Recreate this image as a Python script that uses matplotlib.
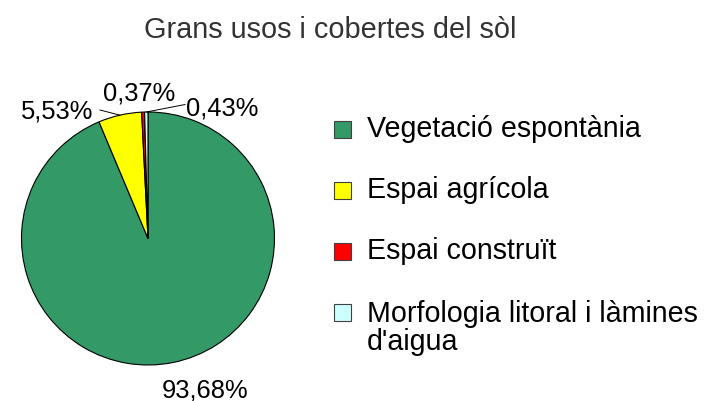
import numpy as np
import matplotlib
matplotlib.use("Agg")
from matplotlib import pyplot as plt
from matplotlib.patches import Rectangle

plt.rcParams['font.family'] = ['Liberation Sans', 'DejaVu Sans']

title = "Grans usos i cobertes del sòl"
categories = ["Vegetació espontània", "Espai agrícola", "Espai construït",
              "Morfologia litoral i làmines\nd'aigua"]
values = [93.68, 5.53, 0.37, 0.43]
colors = ["#339966", "#FFFF00", "#FF0000", "#CCFFFF"]

W, H = 707, 401
fig = plt.figure(figsize=(W / 100, H / 100), dpi=100)


def fx(px):
    return px / W


def fy(py):
    # pixel from top -> figure fraction
    return 1 - py / H


# pie axes: center (148, 238.5), radius 126.5 px
cx, cy, r = 148, 238.5, 126.5
ax = fig.add_axes([fx(cx - r), fy(cy + r), 2 * r / W, 2 * r / H])
wedges, _ = ax.pie(values, colors=colors, startangle=90, counterclock=False,
                   wedgeprops=dict(edgecolor="black", linewidth=0.8))
ax.set_xlim(-1, 1)
ax.set_ylim(-1, 1)
ax.axis("off")

# percentage labels (text anchor positions in pie data units, baseline)
label_pos = [(0.455, -1.253), (-0.715, 0.949), (-0.067, 1.089), (0.589, 0.976)]
leader_from = [None, (-0.38, 1.016), None, (0.292, 1.059)]
for w, v, pos, lf in zip(wedges, values, label_pos, leader_from):
    txt = f"{v:.2f}%".replace(".", ",")
    ax.text(pos[0], pos[1], txt, ha="center", va="baseline",
            fontsize=18.4, clip_on=False)
    if lf is not None:
        ang = np.deg2rad((w.theta1 + w.theta2) / 2)
        ax.plot([lf[0], np.cos(ang)], [lf[1], np.sin(ang)], color="black",
                lw=0.7, clip_on=False)

fig.text(fx(330), fy(38.3), title, ha="center", va="baseline",
         fontsize=20.8, color="#333333")

# legend (baseline of multi-line text is the last line's)
rows = [137, 198, 259, 320]
line_gap = 30
for lab, col, base in zip(categories, colors, rows):
    fig.add_artist(Rectangle((fx(334), fy(base + 1)), 17 / W, 17 / H,
                             facecolor=col, edgecolor="#404040", lw=0.8,
                             transform=fig.transFigure))
    last = base + line_gap * lab.count("\n")
    fig.text(fx(367), fy(last), lab, ha="left", va="baseline",
             fontsize=20.6, linespacing=0.99)

fig.savefig("out.png", dpi=100)
